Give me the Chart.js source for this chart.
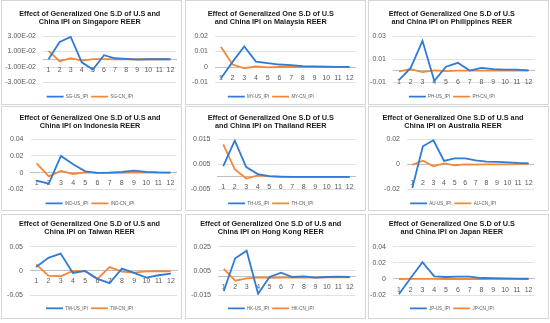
<!DOCTYPE html>
<html>
<head>
<meta charset="utf-8">
<script src="https://cdn.jsdelivr.net/npm/chart.js@4.4.1/dist/chart.umd.min.js"></script>
<style>
  html, body { margin: 0; padding: 0; background: #fff; }
  #grid { position: relative; width: 550px; height: 323px; }
  .cell { position: absolute; width: 181px; height: 105px; border: 1px solid #d6d6d6; box-sizing: border-box; background: #fff; overflow: hidden; }
  canvas { display: block; }
</style>
</head>
<body>
<div id="grid"></div>
<script>
// horizon (periods)
const periods = ['1', '2', '3', '4', '5', '6', '7', '8', '9', '10', '11', '12'];

// responses
const sgUS  = [0, 0.0223, 0.0288, -0.0039, -0.0133, 0.0052, 0.0013, 0.0005, -0.0004, 0, 0, 0];
const sgCN  = [0.0107, -0.0026, 0.0013, -0.0017, 0.0002, 0.0001, 0, 0, 0, 0, 0, 0];
const myUS  = [-0.0074, 0.0033, 0.0132, 0.0035, 0.0025, 0.0016, 0.0012, 0.0006, 0.0004, 0.0002, 0.0001, 0.0001];
const myCN  = [0.013, 0.0016, -0.0008, 0.0004, -0.0002, 0, 0, 0, 0, 0, 0, 0];
const phUS  = [-0.008, 0.0025, 0.0259, -0.0086, 0.0036, 0.0069, 0.0003, 0.0025, 0.0015, 0.001, 0.001, 0.0005];
const phCN  = [-0.0005, 0.0014, -0.0011, 0.0005, -0.0002, 0.0003, 0.0002, 0.0003, 0.0002, 0.0002, 0.0002, 0.0002];
const indUS = [-0.0096, -0.0132, 0.02, 0.01, 0.0016, -0.0004, 0, 0.0008, 0.0024, 0.0008, 0.0002, 0];
const indCN = [0.0112, -0.0044, 0.002, -0.0016, 0.0004, -0.0002, 0, -0.0002, 0.0002, -0.0001, 0, 0];
const thUS  = [0.0043, 0.0145, 0.0039, 0.0011, 0.0003, 0.0001, 0, 0, 0, 0, 0, 0];
const thCN  = [0.013, 0.003, -0.0007, 0.0006, 0.0002, 0, 0, 0, 0, 0, 0, 0];
const auUS  = [-0.019, 0.0144, 0.0192, 0.0027, 0.0048, 0.0048, 0.0032, 0.0021, 0.002, 0.0016, 0.0011, 0.0008];
const auCN  = [-0.0005, 0.0029, -0.0016, 0.0008, -0.0008, 0, -0.0003, -0.0001, 0, 0, 0.0002, 0.0005];
const twUS  = [0.0082, 0.0274, 0.0363, -0.0041, 0, -0.0164, -0.0253, 0.0048, -0.0041, -0.0137, -0.0089, -0.0055];
const twCN  = [0.0137, -0.0096, -0.011, 0, -0.0007, -0.0164, 0.0082, -0.0014, -0.0034, -0.0007, 0, -0.0007];
const hkUS  = [-0.0118, 0.0156, 0.0218, -0.014, 0, 0.0036, 0, 0.0005, -0.0006, 0, 0.0003, 0];
const hkCN  = [0.0067, -0.0031, -0.0011, -0.0003, -0.0008, -0.0006, -0.0005, -0.0005, -0.0005, -0.0004, -0.0004, -0.0004];
const jpUS  = [-0.019, 0.0012, 0.021, 0.0033, 0.0025, 0.0029, 0.0029, 0.0012, 0.001, 0.0008, 0.0005, 0.0003];
const jpCN  = [0, 0.0002, 0.0001, 0.0001, 0, 0, 0, 0, 0, 0, 0, 0];

const BLUE = '#2f7bd6';
const ORANGE = '#f5873a';
const FONT = "'Liberation Sans', Arial, sans-serif";

function sci(v) {
  if (Math.abs(v) < 1e-12) return '0.00E+00';
  const parts = v.toExponential(2).split('e');
  const e = parseInt(parts[1], 10);
  return parts[0] + 'E' + (e < 0 ? '-' : '+') + String(Math.abs(e)).padStart(2, '0');
}
function dec(v) { return String(+v.toFixed(4)); }

const panels = [
  { title: ['Effect of Generalized One S.D of U.S and', 'China IPI on Singapore REER'], names: ['SG-US_IPI', 'SG-CN_IPI'], us: sgUS, cn: sgCN, y: [-0.03, 0.03, 0.02], fmt: sci },
  { title: ['Effect of Generalized One S.D of U.S', 'and China IPI on Malaysia REER'], names: ['MY-US_IPI', 'MY-CN_IPI'], us: myUS, cn: myCN, y: [-0.01, 0.02, 0.01], fmt: dec },
  { title: ['Effect of Generalized One S.D of U.S', 'and China IPI on Philippines REER'], names: ['PH-US_IPI', 'PH-CN_IPI'], us: phUS, cn: phCN, y: [-0.01, 0.03, 0.02], fmt: dec },
  { title: ['Effect of Generalized One S.D of U.S and', 'China IPI on Indonesia REER'], names: ['IND-US_IPI', 'IND-CN_IPI'], us: indUS, cn: indCN, y: [-0.02, 0.04, 0.02], fmt: dec },
  { title: ['Effect of Generalized One S.D of U.S', 'and China IPI on Thailand REER'], names: ['TH-US_IPI', 'TH-CN_IPI'], us: thUS, cn: thCN, y: [-0.005, 0.015, 0.01], fmt: dec },
  { title: ['Effect of Generalized One S.D of U.S and', 'China IPI on Australia REER'], names: ['AU-US_IPI', 'AU-CN_IPI'], us: auUS, cn: auCN, y: [-0.02, 0.02, 0.02], fmt: dec },
  { title: ['Effect of Generalized One S.D of U.S and', 'China IPI on Taiwan REER'], names: ['TW-US_IPI', 'TW-CN_IPI'], us: twUS, cn: twCN, y: [-0.05, 0.05, 0.05], fmt: dec },
  { title: ['Effect of Generalized One S.D of U.S and', 'China IPI on Hong Kong REER'], names: ['HK-US_IPI', 'HK-CN_IPI'], us: hkUS, cn: hkCN, y: [-0.015, 0.025, 0.02], fmt: dec },
  { title: ['Effect of Generalized One S.D of U.S', 'and China IPI on Japan REER'], names: ['JP-US_IPI', 'JP-CN_IPI'], us: jpUS, cn: jpCN, y: [-0.02, 0.04, 0.02], fmt: dec }
];

// cell placement and plot-area tuning
const colLeft = [1, 185, 368];
const rowTop = [0, 106, 214];
const axisW = [41, 29, 24, 28.5, 31.5, 38, 28, 32, 24];
const padRight = [3.5, 9.5, 13.5, 3, 9.5, 11, 4, 9.5, 13.5];
const labelGap = [6.5, 6.5, 6.5, 6.5, 6, 15, 5.5, 6, 6.5];
const rowTitlePad = [[9.45, 10.15], [7.45, 9.45], [5.3, 11.25]];
const rowLegendGap = [7.75, 7.55, 6.85];
const rowBottomPad = [3.55, 2.95, 5.95];

const grid = document.getElementById('grid');

panels.forEach((p, i) => {
  const r = Math.floor(i / 3), c = i % 3;
  const cell = document.createElement('div');
  cell.className = 'cell';
  cell.style.left = colLeft[c] + 'px';
  cell.style.top = rowTop[r] + 'px';
  const cv = document.createElement('canvas');
  cv.width = 179; cv.height = 103;
  cell.appendChild(cv);
  grid.appendChild(cell);

  const legendTitleH = rowLegendGap[r] + 1.2;
  new Chart(cv, {
    type: 'line',
    data: {
      labels: periods,
      datasets: [
        { label: p.names[0], data: p.us, borderColor: BLUE, backgroundColor: BLUE, borderWidth: 1.8, pointRadius: 0, tension: 0 },
        { label: p.names[1], data: p.cn, borderColor: ORANGE, backgroundColor: ORANGE, borderWidth: 1.8, pointRadius: 0, tension: 0 }
      ]
    },
    options: {
      responsive: false,
      animation: false,
      layout: { padding: { left: 0, right: padRight[i], top: 0, bottom: rowBottomPad[r] } },
      plugins: {
        title: {
          display: true, text: p.title, color: '#1a1a1a',
          font: { family: FONT, size: 7.3, weight: 'bold', lineHeight: 1.055 },
          padding: { top: rowTitlePad[r][0], bottom: rowTitlePad[r][1] }
        },
        legend: {
          position: 'bottom',
          maxHeight: legendTitleH + 3 + 4.5 + 1.5,
          title: { display: true, text: '', font: { size: 1 }, padding: { top: rowLegendGap[r], bottom: 0 } },
          labels: {
            usePointStyle: true, pointStyle: 'line', pointStyleWidth: 17,
            color: '#595959', padding: 3,
            font: { family: FONT, size: 4.5 }
          }
        },
        tooltip: { enabled: false }
      },
      scales: {
        x: {
          position: { y: 0 },
          offset: true,
          grid: { display: false, drawTicks: false },
          border: { color: '#bfbfbf', width: 1 },
          ticks: { color: '#595959', font: { family: FONT, size: 7 }, padding: labelGap[i], maxRotation: 0, autoSkip: false }
        },
        y: {
          min: p.y[0], max: p.y[1],
          afterFit: s => { s.width = axisW[i]; },
          grid: { color: '#d9d9d9', lineWidth: 0.8, drawTicks: false },
          border: { display: false },
          ticks: { stepSize: p.y[2], color: '#595959', font: { family: FONT, size: 7 }, padding: 7, callback: v => p.fmt(v) }
        }
      }
    }
  });
});
</script>
</body>
</html>
